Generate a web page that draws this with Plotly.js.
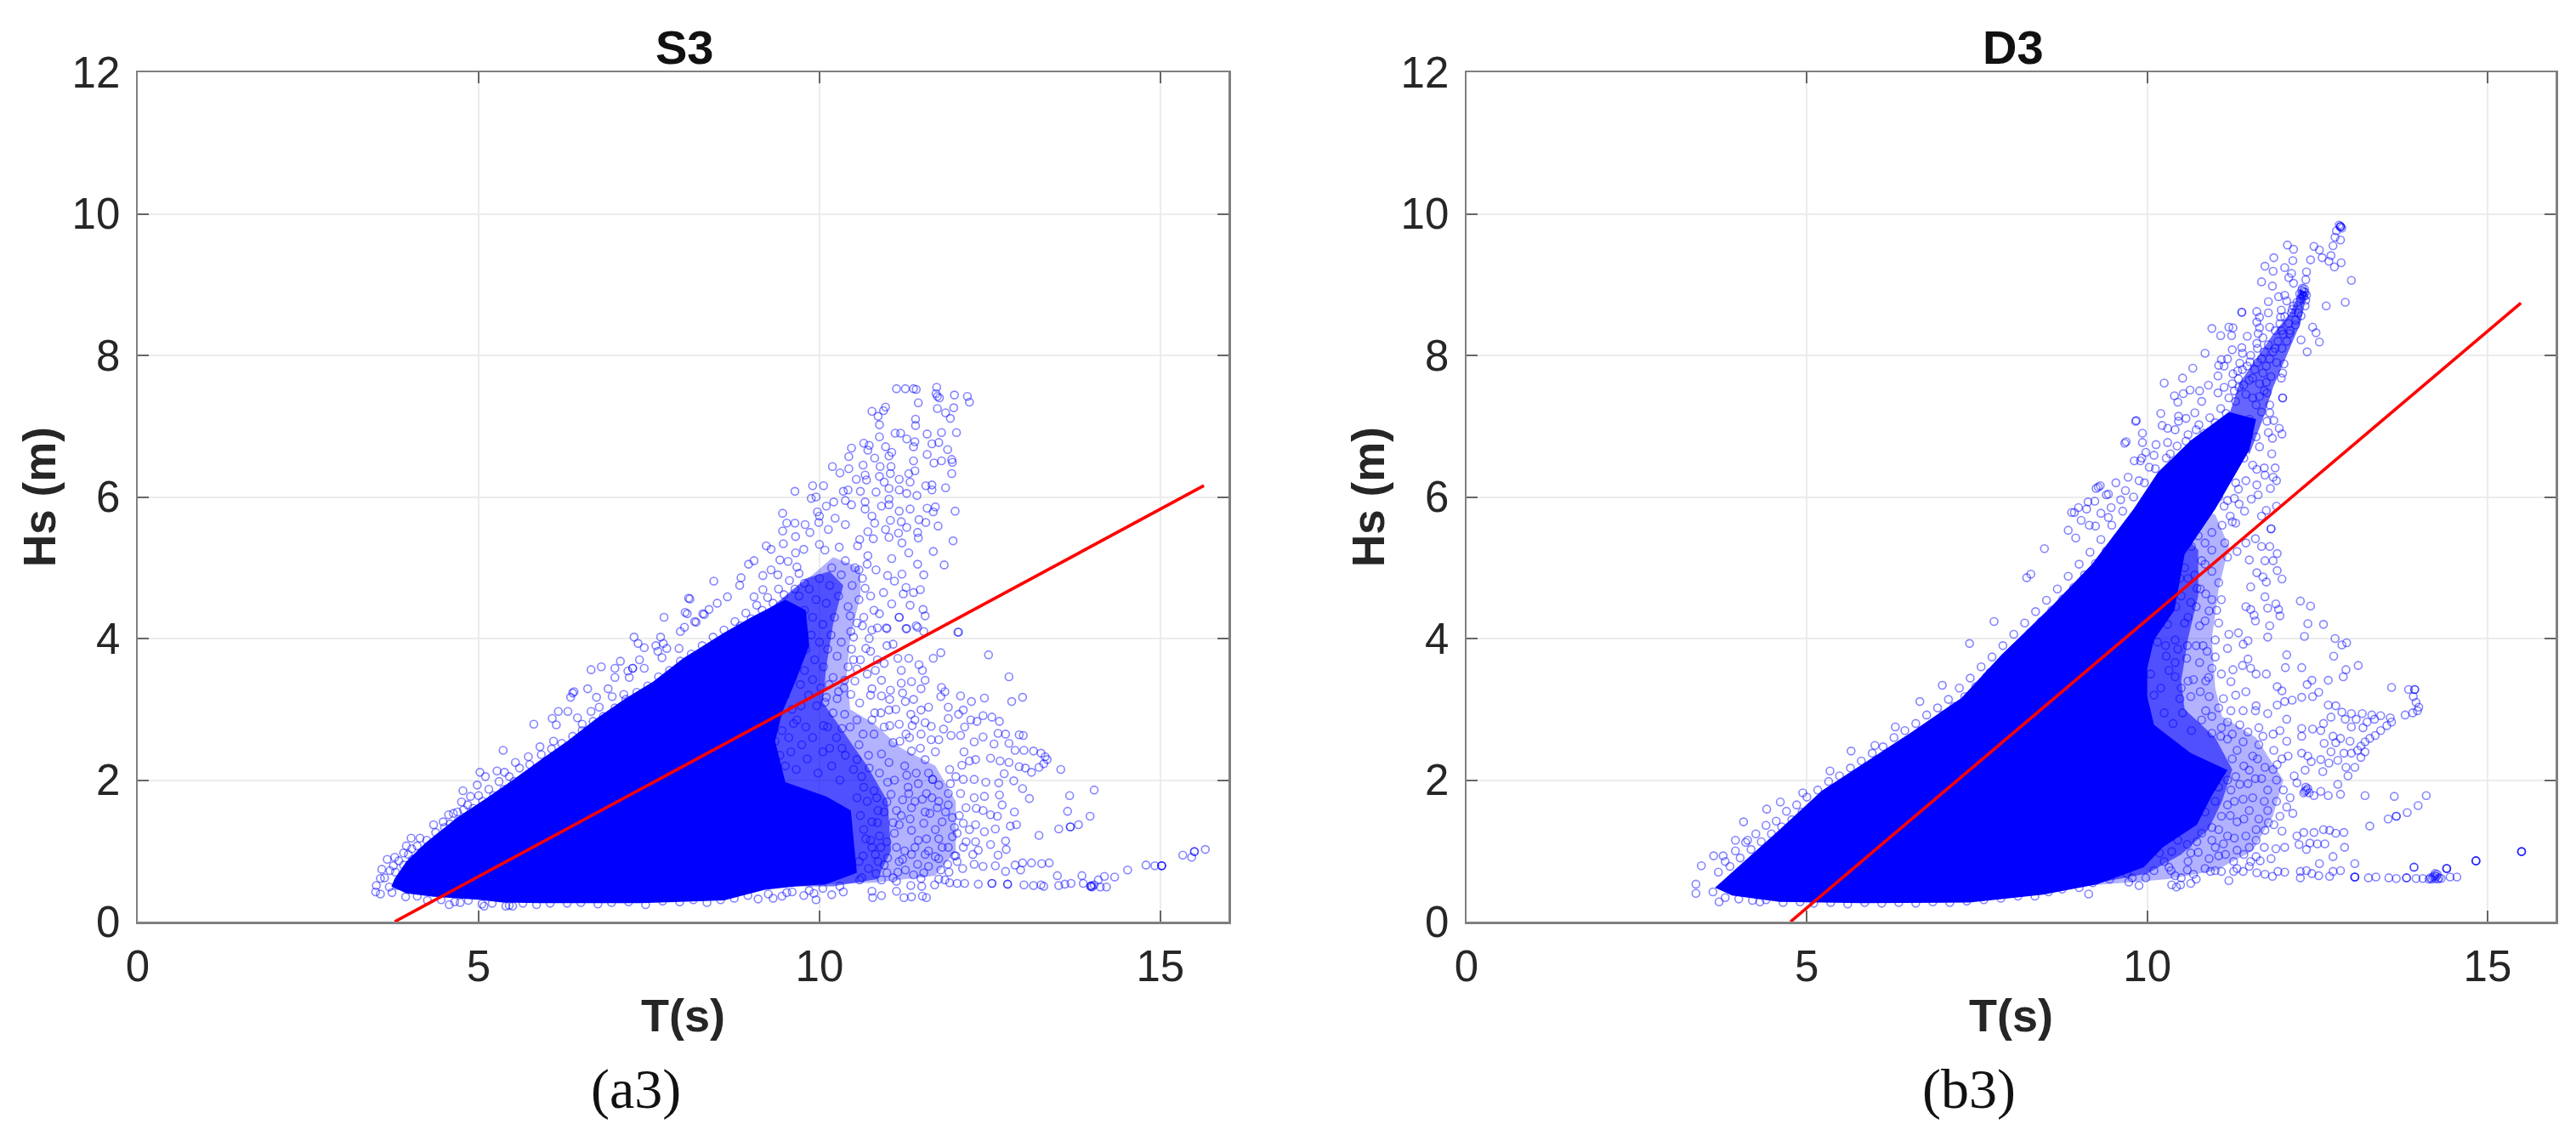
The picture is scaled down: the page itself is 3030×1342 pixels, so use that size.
<!DOCTYPE html>
<html><head><meta charset="utf-8">
<script src="https://cdn.plot.ly/plotly-3.0.1.min.js"></script>
<style>html,body{margin:0;padding:0;background:#fff}</style></head>
<body><div id="chart" style="width:3030px;height:1342px"></div>
<script>
const xTicks=[0,5,10,15];
const yTicks=[0,2,4,6,8,10,12];
const titles=["S3","D3"];
const captions=["(a3)","(b3)"];
const xLabel="T(s)";
const yLabel="Hs (m)";
const fitA=[[3.77,0],[15.64,6.16]];
const fitB=[[4.76,0],[15.49,8.74]];
const coreA=[[3.77,.61],[3.94,.85],[4.23,1.12],[4.7,1.48],[5.08,1.72],[5.5,2.0],[5.9,2.28],[6.3,2.55],[6.73,2.87],[7.15,3.15],[7.56,3.39],[8,3.72],[8.4,3.96],[8.6,4.08],[9.0,4.3],[9.5,4.55],[9.8,4.4],[9.85,3.9],[9.65,3.4],[9.45,2.95],[9.35,2.55],[9.5,1.97],[10.1,1.77],[10.46,1.57],[10.5,1.17],[10.55,.69],[10.1,.53],[9.66,.5],[9.2,.45],[8.6,.3],[7.35,.26],[5.9,.26],[5.35,.27],[5,.31],[4.35,.35],[3.94,.4],[3.72,.5]];
const mistA=[[9.0,4.2],[9.5,4.6],[9.8,4.85],[10.15,4.95],[10.35,4.75],[10.2,4.2],[10.1,3.6],[10.05,3.1],[10.3,2.75],[10.7,2.2],[11.0,1.7],[11.05,1.0],[10.85,.6],[10.2,.5],[9,.5]];
const hazeA=[[9.0,4.2],[9.9,4.9],[10.2,5.15],[10.6,5.0],[10.6,4.6],[10.45,4.0],[10.4,3.5],[10.45,3.0],[10.8,2.8],[11.2,2.45],[11.7,2.2],[12,1.7],[12,1.0],[11.7,.65],[10.8,.55],[9,.5]];
const coreB=[[3.65,.48],[4.01,.79],[4.61,1.31],[5.22,1.85],[5.82,2.23],[6.54,2.68],[7.27,3.16],[7.87,3.78],[8.59,4.45],[9.19,5.05],[9.8,5.83],[10.16,6.35],[10.64,6.8],[11.2,7.2],[11.6,7.1],[11.5,6.66],[11.0,5.83],[10.55,5.19],[10.4,4.4],[10.1,3.98],[10,3.58],[10,3.18],[10.1,2.78],[10.64,2.38],[11.18,2.14],[10.95,1.78],[10.73,1.37],[10.23,1.05],[9.95,.77],[9.27,.53],[8.47,.38],[7.39,.27],[5.82,.26],[4.6,.28],[3.9,.37]];
const mistB=[[9,4.5],[10,5.5],[10.4,5.6],[10.75,5.25],[10.75,4.6],[10.6,4.0],[10.5,3.4],[10.55,3.0],[11,2.6],[11.25,2.15],[11.1,1.7],[10.9,1.3],[10.5,.95],[10,.68],[9,.5]];
const hazeB=[[9,4.5],[10.6,5.9],[11.0,5.75],[11.2,5.3],[11.05,4.7],[10.95,4.0],[11.0,3.3],[11.1,2.9],[11.6,2.6],[12,2.0],[11.85,1.5],[11.55,1.0],[11.0,.72],[10.3,.6],[9,.5]];
const strandHazeB=[[11.2,7.15],[11.35,7.6],[11.6,7.95],[11.85,8.3],[12.1,8.6],[12.25,8.92],[12.35,8.88],[12.25,8.45],[12.05,8.0],[11.85,7.55],[11.7,7.1],[11.5,6.6]];
const upperA=[[11.13,7.53],[11.26,7.53],[11.38,7.53],[11.42,7.52],[11.72,7.55],[11.71,7.46],[11.73,7.42],[11.76,7.40],[11.98,7.44],[12.17,7.42],[12.2,7.34],[11.45,7.33],[11.73,7.25],[11.97,7.26],[11.85,7.19],[11.92,7.11],[10.77,7.21],[10.94,7.22],[10.97,7.27],[10.86,7.14],[10.88,7.02],[11.41,7.10],[11.41,7.01],[11.11,6.90],[11.19,6.90],[11.58,6.89],[11.79,6.91],[12.01,6.91],[10.88,6.85],[11.28,6.82],[11.40,6.78],[10.65,6.76],[10.73,6.73],[11.38,6.71],[11.65,6.75],[11.75,6.77],[10.97,6.71],[10.47,6.69],[10.71,6.66],[11.88,6.67],[11.06,6.63],[11.02,6.58],[10.43,6.57],[11.58,6.60],[10.81,6.55],[11.94,6.53],[11.38,6.51],[11.68,6.48],[11.79,6.51],[11.95,6.49],[10.19,6.43],[10.89,6.43],[11.05,6.43],[10.64,6.45],[10.43,6.40],[11.40,6.37],[10.30,6.34],[11.04,6.33],[11.31,6.33],[11.94,6.33],[10.67,6.31],[10.54,6.25],[10.69,6.24],[10.88,6.29],[11.17,6.25],[11.33,6.21],[10.95,6.21],[11.56,6.16],[11.65,6.17],[11.65,6.10],[11.85,6.13],[10.06,6.16],[9.90,6.16],[9.64,6.08],[10.35,6.08],[10.42,6.10],[10.60,6.08],[10.83,6.07],[11.02,6.12],[11.17,6.10],[11.28,6.05],[11.43,6.02],[9.88,5.98],[9.95,6.0],[10.38,5.95],[10.67,5.93],[11.02,5.97],[10.21,5.93],[10.10,5.87],[10.47,5.89],[10.91,5.87],[11.02,5.89],[10.67,5.83],[11.33,5.83],[11.58,5.84],[11.70,5.86],[11.67,5.79],[11.99,5.80],[11.17,5.80],[9.97,5.79],[9.46,5.77],[10,5.73],[10.23,5.70],[10.77,5.73],[11.04,5.67],[11.2,5.65],[11.46,5.68],[11.56,5.64],[11.74,5.59],[9.52,5.63],[9.64,5.63],[9.79,5.61],[9.99,5.64],[10.38,5.61],[10.81,5.63],[11.28,5.57],[9.46,5.52],[9.86,5.50],[10.13,5.54],[10.97,5.54],[11.16,5.49],[11.44,5.50],[11.45,5.42],[9.65,5.44],[10.71,5.51],[11.02,5.43],[11.96,5.38],[10.59,5.40],[10.79,5.41],[9.22,5.31],[9.29,5.26],[9.47,5.34],[10,5.33],[10.56,5.31],[11.21,5.35],[11.67,5.23],[11.31,5.21],[9.65,5.21],[9.77,5.26],[10.08,5.25],[10.29,5.29],[11.83,5.04],[11.06,5.13],[10.71,5.17],[9.04,5.10],[8.96,5.05],[9.54,5.09],[9.42,5.11],[9.67,5.01],[9.29,4.97],[9.17,4.89],[9.39,4.90],[11.44,5.05],[11.53,4.90],[10.83,4.97],[10.58,4.97],[8.85,4.86],[8.45,4.81],[11.21,4.91],[11.0,4.89],[10.67,4.71],[11.48,4.69],[11.27,4.72],[11.23,4.63],[11.38,4.65],[11.33,4.47],[11.10,4.81],[10.94,4.65],[11.06,4.49],[11.17,4.30],[11.52,4.41],[11.55,4.32],[10.88,4.35],[8.08,4.57],[8.03,4.37],[8.17,4.24],[8.38,4.41],[8.5,4.50],[8.29,4.35],[8.65,4.59],[8.83,4.75],[9.04,4.59],[9.17,4.69],[11.44,4.16],[12.04,4.09],[10.63,4.18],[11.27,4.14],[10.98,4.15],[10.77,4.12]];
const lowerA=[[12.03,4.09],[12.48,3.77],[12.78,3.46],[12.98,3.17],[12.82,3.11],[12.42,3.16],[12.07,3.19],[12.23,3.11],[11.78,3.80],[11.67,3.72],[11.46,3.63],[11.51,3.55],[11.55,3.41],[11.35,3.39],[11.20,3.37],[11.49,3.29],[11.79,3.31],[11.84,3.25],[11.78,3.18],[11.38,3.14],[11.04,3.27],[11.22,3.23],[10.91,3.41],[10.77,3.29],[10.91,3.19],[11.03,3.14],[11.26,3.11],[11.6,3.03],[11.89,3.03],[12.11,2.99],[11.49,2.99],[11.34,2.93],[12.04,2.93],[11.89,2.87],[12.4,2.91],[12.53,2.89],[12.64,2.83],[12.22,2.85],[12.31,2.83],[12.13,2.75],[11.55,2.81],[11.64,2.76],[11.36,2.77],[11.03,2.77],[11.17,2.79],[10.81,2.95],[11.02,2.99],[11.49,2.65],[11.27,2.65],[12.62,2.66],[12.73,2.65],[12.93,2.64],[12.99,2.63],[11.93,2.63],[12.07,2.63],[12.27,2.54],[12.40,2.61],[12.78,2.52],[12.56,2.51],[11.75,2.57],[11.64,2.57],[12.87,2.42],[13.0,2.42],[13.14,2.41],[13.25,2.38],[13.31,2.33],[13.34,2.29],[13.29,2.23],[13.22,2.18],[13.11,2.11],[13.02,2.17],[13.54,2.15],[12.93,2.19],[12.78,2.25],[12.65,2.27],[12.51,2.31],[12.29,2.29],[12.2,2.27],[12.09,2.21],[12.71,2.09],[12.85,1.99],[12.63,1.96],[12.44,1.97],[12.98,1.88],[13.08,1.74],[12.64,1.79],[12.68,1.65],[13.67,1.78],[14.03,1.86],[13.64,1.56],[13.97,1.49],[13.8,1.37],[13.68,1.34],[13.68,1.34],[13.51,1.31],[13.22,1.22],[12.86,1.55],[12.61,1.49],[12.89,1.37],[12.8,1.35],[12.58,1.31],[12.73,1.14],[12.74,1.02],[12.62,.94],[12.51,1.09],[12.27,1.75],[12.11,2.01],[12.27,2.01],[12.4,1.57],[12.51,1.51],[12.29,1.37],[12.42,1.27],[12.11,1.39],[11.95,1.47],[12.02,1.25],[12.29,1.13],[12.11,1.05],[12.0,.93],[12.27,.81],[12.4,.78],[12.58,.79],[12.87,.80],[12.98,.83],[13.11,.83],[13.26,.82],[13.37,.83],[12.95,.73],[12.73,.71],[13.49,.65],[13.85,.65],[14.18,.64],[14.33,.63],[14.52,.73],[14.79,.80],[14.92,.79],[15.02,.79],[15.02,.79],[15.02,.79],[15.33,.94],[15.46,.91],[15.5,.99],[15.5,.99],[15.66,1.02],[12.53,.54],[12.53,.54],[12.76,.53],[12.76,.53],[13.0,.52],[13.14,.51],[13.25,.52],[13.29,.50],[13.51,.51],[13.6,.53],[13.69,.54],[13.87,.54],[13.98,.50],[13.98,.50],[13.99,.51],[14.0,.49],[14.03,.52],[14.09,.59],[14.12,.49],[14.21,.49],[12.33,.53],[12.13,.54],[12.02,.54],[11.91,.55],[11.69,.52],[11.57,.34],[11.51,.36],[11.35,.35],[11.24,.34],[11.13,.43],[10.91,.37],[10.78,.34],[10.77,.43],[10.35,.42],[10.18,.38],[9.95,.31],[9.77,.37],[9.32,.33],[9.52,.41],[9.92,.40],[11.34,.51]];
const fieldA=[[11.66,2.01],[11.66,2.01],[11.0,1.97],[11.28,2.07],[11.91,2.15],[11.55,2.29],[11.35,2.41],[10.64,2.65],[10.77,2.85],[10.55,2.85],[10.37,2.93],[11.08,2.53],[10.91,2.37],[10.73,2.17],[10.55,2.29],[10.33,2.45],[10.15,2.45],[10.06,2.77],[10.33,2.73],[10.59,3.09],[10.46,3.21],[10.28,3.25],[10.1,3.17],[10.37,3.41],[10.55,3.57],[10.5,3.7],[10.68,3.86],[10.5,4.02],[10.73,4.0],[10.99,4.14],[11.17,4.3],[11.28,4.14],[11.42,4.18],[11.53,4.1],[10.99,3.9],[11.15,3.72],[11.31,3.72],[10.75,3.82],[10.46,4.1],[10.55,4.22],[10.86,1.57],[10.99,1.69],[11.13,1.57],[11.33,1.45],[11.53,1.39],[11.73,1.61],[11.51,1.73],[11.31,1.81],[11.89,1.81],[11.75,1.93],[11.57,1.81],[11.35,1.61],[11.17,1.37],[10.88,1.21],[10.99,1.13],[10.77,1.41],[11.8,1.41],[11.75,1.17],[11.55,.95],[11.75,.89],[11.98,.93],[11.78,.73],[11.57,1.17],[11.4,1.05],[11.13,1.05],[10.82,.95],[10.86,.85],[11.17,.85],[11.44,.81],[11.53,.69],[11.26,.73],[10.99,.69],[10.91,.59],[11.88,.81],[12.02,.85],[11.84,.59],[11.49,.61],[11.13,.57],[10.59,.59],[10.64,.93],[10.68,1.17],[10.77,1.05],[11.35,1.29],[11.98,1.33],[11.89,1.05],[12.15,1.13],[12.33,1.01],[12.15,1.61],[12.42,1.77],[11.89,1.65],[12.07,1.81],[11.62,1.53]];
const edgeA=[[8.10,4.56],[7.72,4.30],[8.06,4.35],[8.31,4.34],[8.19,4.23],[7.28,4.02],[7.34,3.93],[7.43,3.87],[7.67,4.02],[7.6,3.90],[7.71,3.93],[7.76,3.86],[7.63,3.82],[7.69,3.73],[7.96,4.10],[8.02,4.16],[7.94,3.86],[6.65,3.56],[6.8,3.60],[7.08,3.68],[7.0,3.58],[7.0,3.45],[7.26,3.58],[7.26,3.58],[7.19,3.54],[7.21,3.45],[7.36,3.70],[7.43,3.58],[6.6,3.29],[6.9,3.29],[6.73,3.17],[6.96,3.18],[7.13,3.21],[6.38,3.23],[6.35,3.17],[6.4,3.25],[6.17,2.97],[6.31,2.97],[6.08,2.87],[6.14,2.78],[5.81,2.79],[6.45,2.88],[6.65,2.97],[6.77,3.03],[6.52,2.79],[5.36,2.42],[6.1,2.55],[5.9,2.47],[5.73,2.33],[5.54,2.25],[5.02,2.11],[5.1,2.05],[4.98,1.93],[5.27,2.13],[5.38,2.11],[4.77,1.85],[4.88,1.77],[4.75,1.69],[4.56,1.51],[4.69,1.55],[4.34,1.37],[4.48,1.41],[4.01,1.18],[4.14,1.18],[3.94,1.07],[3.9,.97],[4.02,1.03],[3.66,.88],[3.77,.91],[3.58,.74],[3.75,.79],[3.56,.61],[3.5,.51],[3.49,.42],[3.56,.39],[3.69,.49],[3.81,.51],[3.73,.41],[3.93,.35],[4.57,.24],[4.73,.27],[5.08,.22],[5.4,.22],[5.5,.22]];
const rimA=[[3.62,.62],[3.7,.72],[3.78,.7],[3.83,.86],[3.9,.8],[3.97,.95],[4.03,.88],[4.1,1.07],[4.16,.98],[4.24,1.15],[4.3,1.06],[4.37,1.26],[4.44,1.17],[4.5,1.33],[4.58,1.38],[4.63,1.53],[4.7,1.42],[4.78,1.58],[4.84,1.65],[4.92,1.6],[5,1.78],[5.06,1.7],[5.15,1.87],[5.22,1.78],[5.3,1.98],[5.37,1.87],[5.45,2.05],[5.52,1.98],[5.6,2.17],[5.68,2.05],[5.75,2.22],[5.83,2.13],[5.92,2.36],[6,2.27],[6.07,2.44],[6.15,2.33],[6.22,2.52],[6.3,2.43],[6.38,2.62],[6.45,2.52],[6.52,2.7],[6.6,2.62],[6.68,2.83],[6.75,2.73],[6.83,2.9],[6.92,2.82],[7,3.02],[7.08,2.93],[7.16,3.14],[7.24,3.03],[7.32,3.24],[7.4,3.13],[7.48,3.33],[7.56,3.25],[7.64,3.46],[7.72,3.36],[7.8,3.55],[7.88,3.47],[7.96,3.68],[8.04,3.58],[8.12,3.78],[8.2,3.7],[8.28,3.9],[8.36,3.82],[8.44,4.02],[8.52,3.95],[8.6,4.12],[8.68,4.05],[8.76,4.24],[8.84,4.18],[8.92,4.36],[9,4.28],[9.08,4.47],[9.16,4.4],[9.24,4.58],[9.32,4.5],[9.4,4.7],[9.48,4.62],[9.56,4.82],[9.64,4.7],[9.7,4.92],[9.78,4.78],[4.1,.36],[4.25,.3],[4.45,.31],[4.65,.28],[4.85,.3],[5.05,.25],[5.2,.26],[5.45,.23],[5.65,.26],[5.85,.24],[6.05,.26],[6.3,.26],[6.5,.27],[6.75,.25],[6.95,.27],[7.2,.28],[7.45,.24],[7.7,.29],[7.95,.28],[8.15,.31],[8.35,.27],[8.55,.31],[8.75,.33],[8.95,.37],[9.1,.32],[9.25,.39],[9.45,.36],[9.6,.42],[9.85,.44],[10.05,.47],[10.3,.5]];
const denseA=[[9.7,4.6],[9.78,4.4],[9.85,4.7],[9.9,4.3],[9.95,4.55],[10,4.85],[10.05,4.2],[10.1,4.5],[10.15,4.75],[10.18,5.0],[10.22,4.3],[10.28,4.6],[10.32,4.9],[10.38,5.1],[10.42,4.45],[10.48,4.75],[10.52,5.0],[10.58,4.55],[10.63,4.85],[10.7,5.05],[10.75,4.6],[9.72,4.1],[9.8,3.85],[9.88,4.05],[9.93,3.7],[10.0,3.95],[10.06,3.6],[10.12,3.85],[10.17,4.05],[10.2,3.45],[10.26,3.75],[10.32,3.95],[10.36,3.3],[10.42,3.6],[10.47,3.85],[10.52,3.4],[10.6,3.7],[10.65,4.3],[10.7,3.5],[10.8,4.4],[10.85,3.7],[9.65,3.6],[9.72,3.35],[9.78,3.55],[9.84,3.2],[9.9,3.42],[9.96,3.05],[10.02,3.3],[10.08,3.1],[10.14,3.35],[10.2,2.95],[10.26,3.15],[9.5,3.2],[9.55,3.5],[9.6,3.0],[9.67,2.85],[9.73,3.05],[9.8,2.75],[9.4,2.95],[9.45,2.7],[9.55,2.6],[9.62,2.8],[9.35,2.55],[9.42,2.35],[9.5,2.2],[9.58,2.4],[9.66,2.15],[9.74,2.5],[9.82,2.3],[9.9,2.6],[9.98,2.1],[10.05,2.4],[10.12,2.75],[10.18,2.2],[10.25,2.6],[10.3,2.0],[10.38,2.35],[10.45,2.75],[10.5,2.15],[10.58,2.5],[10.65,1.9],[10.72,2.35],[10.8,2.65],[10.88,2.1],[10.95,2.75],[11.02,2.25],[11.1,2.0],[11.18,2.55],[11.25,2.2],[11.32,2.6],[11.42,2.1],[11.48,2.45],[10.55,1.75],[10.6,1.5],[10.65,1.3],[10.7,1.7],[10.75,1.15],[10.8,1.85],[10.85,1.4],[10.9,1.05],[10.95,1.55],[11,.9],[11.05,1.8],[11.1,1.25],[11.15,.7],[11.2,1.5],[11.25,1.0],[11.3,1.9],[11.35,.95],[11.4,1.7],[11.45,1.15],[11.5,.5],[11.55,1.55],[11.6,1.0],[11.65,1.75],[11.7,1.3],[11.75,.6],[11.8,1.05],[11.85,1.55],[11.9,.7],[11.95,1.2],[12.05,1.5],[12.1,.75],[12.2,1.3],[12.25,.95],[12.3,1.6],[10.58,.85],[10.62,.62],[10.72,.75],[10.83,.68],[10.95,.8],[11.08,.62],[11.22,.88],[11.38,.66],[11.6,.78],[11.7,.92],[10.62,2.05],[10.84,1.75],[11.08,1.4],[11.22,1.72],[11.45,1.95],[11.6,2.1],[11.75,1.7],[11.92,1.95],[12.0,2.05],[12.12,2.4],[11.7,2.4],[11.82,2.72],[11.4,2.85],[11.12,3.0],[10.9,2.95],[10.75,3.2],[10.95,3.65],[11.2,3.55],[11.08,3.92],[10.82,3.55],[10.45,4.32],[10.85,4.15]];
const upperB=[[12.84,9.82],[12.84,9.82],[12.84,9.82],[12.82,9.84],[12.86,9.8],[12.78,9.76],[12.76,9.67],[12.84,9.63],[12.73,9.55],[12.06,9.56],[12.15,9.50],[12.45,9.54],[12.53,9.49],[11.86,9.38],[12.14,9.34],[12.40,9.35],[12.57,9.38],[12.70,9.41],[12.67,9.33],[12.85,9.31],[12.75,9.25],[11.73,9.26],[12.02,9.24],[11.85,9.19],[12.12,9.16],[12.34,9.18],[12.08,9.10],[13.0,9.06],[11.68,9.04],[12.15,9.02],[12.33,9.07],[11.84,8.98],[12.28,8.95],[12.32,8.89],[12.24,8.87],[12.34,8.85],[12.3,8.83],[12.3,8.9],[12.27,8.86],[12.31,8.94],[11.93,8.83],[12.02,8.85],[12.91,8.75],[12.63,8.70],[11.78,8.76],[12.05,8.77],[12.32,8.70],[11.39,8.61],[11.39,8.61],[11.61,8.62],[11.78,8.60],[11.97,8.64],[12.13,8.65],[11.65,8.54],[11.96,8.54],[12.26,8.56],[11.61,8.47],[12.18,8.43],[10.95,8.38],[11.2,8.40],[11.26,8.39],[11.65,8.39],[12.43,8.40],[12.48,8.32],[11.08,8.28],[11.24,8.28],[11.47,8.27],[11.63,8.31],[12.26,8.22],[12.53,8.19],[11.97,8.35],[12.09,8.31],[11.61,8.17],[10.85,8.03],[11.25,8.08],[11.39,8.11],[12.35,8.05],[11.4,8.03],[11.18,7.95],[11.09,7.94],[11.05,7.86],[11.13,7.85],[10.67,7.82],[11.36,7.89],[11.51,7.91],[12.01,7.88],[11.26,7.74],[11.04,7.71],[10.52,7.68],[10.25,7.61],[11.34,7.67],[10.9,7.58],[11.99,7.75],[11.97,7.68],[11.99,7.40],[11.99,7.40],[10.63,7.51],[10.77,7.50],[10.53,7.46],[10.40,7.43],[10.45,7.34],[11.13,7.55],[11.04,7.47],[10.8,7.35],[11.8,7.30],[11.76,7.47],[10.2,7.18],[10.46,7.14],[10.57,7.11],[10.7,7.19],[9.84,7.08],[10.22,7.01],[10.3,6.97],[10.41,6.95],[10.46,7.07],[10.72,6.95],[11.8,7.19],[11.86,7.08],[11.76,7.07],[11.94,6.97],[11.98,6.89],[11.78,6.91],[9.93,6.90],[9.69,6.78],[9.93,6.77],[10.13,6.74],[10.57,6.79],[10.3,6.77],[11.84,6.83],[11.65,6.71],[11.83,6.61],[9.98,6.63],[10.10,6.59],[10.34,6.61],[9.90,6.51],[9.81,6.51],[10.03,6.42],[11.88,6.41],[11.72,6.41],[11.61,6.39],[9.72,6.28],[11.73,6.31],[11.9,6.23],[11.85,6.28],[9.54,6.20],[9.31,6.16],[9.25,6.12],[9.4,6.03],[9.68,6.09],[9.88,6.23],[11.61,6.17],[11.81,6.12],[11.45,6.23],[11.34,6.11],[11.63,6.03],[11.28,5.98],[9.23,5.94],[9.61,5.96],[8.99,5.85],[9.11,5.83],[9.47,5.85],[8.93,5.78],[9.32,5.77],[9.03,5.67],[9.43,5.71],[11.9,5.87],[11.75,5.81],[11.68,5.73],[11.53,5.97],[11.43,5.80],[11.13,5.87],[11.22,5.73],[11.82,5.55],[8.84,5.53],[9.24,5.59],[9.15,5.60],[11.3,5.63]];
const lowerB=[[11.82,5.55],[11.91,5.20],[11.80,5.30],[11.85,5.10],[11.73,5.10],[11.59,5.41],[11.68,5.30],[11.91,4.96],[11.98,4.84],[11.75,4.80],[11.61,4.93],[11.70,4.87],[11.52,4.73],[11.73,4.59],[12.25,4.53],[12.40,4.46],[11.89,4.49],[11.77,4.43],[11.93,4.41],[11.95,4.32],[11.45,4.45],[11.52,4.41],[11.57,4.33],[11.59,4.25],[12.36,4.21],[12.59,4.20],[11.8,4.18],[11.77,4.02],[12.31,4.03],[12.76,4.00],[12.93,3.94],[12.86,3.91],[11.34,4.08],[11.2,4.06],[11.48,3.97],[11.41,3.92],[12.05,3.77],[12.74,3.75],[12.03,3.59],[12.27,3.59],[13.1,3.62],[12.92,3.56],[12.88,3.46],[12.66,3.41],[11.75,3.50],[11.48,3.71],[11.4,3.62],[11.52,3.58],[11.6,3.50],[11.26,3.56],[11.23,3.39],[12.42,3.41],[12.35,3.35],[13.59,3.31],[13.84,3.28],[13.93,3.28],[13.93,3.28],[11.91,3.32],[11.98,3.26],[12.52,3.24],[12.43,3.18],[12.27,3.17],[12.13,3.13],[12.02,3.11],[11.91,3.06],[13.91,3.18],[13.95,3.10],[13.99,3.03],[13.97,2.98],[13.9,2.95],[13.79,2.92],[12.66,3.06],[12.77,3.05],[12.86,2.96],[13.0,2.94],[13.16,2.94],[13.3,2.92],[13.43,2.91],[13.57,2.88],[13.59,2.82],[13.52,2.77],[13.43,2.70],[13.35,2.63],[13.27,2.59],[13.2,2.54],[13.14,2.48],[13.23,2.82],[13.34,2.86],[13.07,2.86],[12.91,2.86],[12.7,2.89],[12.59,2.80],[13.0,2.75],[13.17,2.74],[12.43,2.72],[12.55,2.70],[12.27,2.73],[12.05,2.86],[12.98,2.55],[12.84,2.59],[12.73,2.62],[12.6,2.52],[12.77,2.53],[12.27,2.62],[13.09,2.42],[13.2,2.40],[12.89,2.38],[12.7,2.40],[13.0,2.38],[13.14,2.32],[12.8,2.28],[12.67,2.24],[12.55,2.29],[13.05,2.18],[12.92,2.18],[12.95,2.06],[12.58,2.12],[12.27,2.38],[12.07,2.34],[11.91,2.22],[12.36,2.34],[12.41,2.26],[12.32,2.14],[12.16,2.06],[12.2,1.96],[12.8,1.94],[12.55,1.84],[12.66,1.78],[12.84,1.80],[13.2,1.78],[13.63,1.77],[14.1,1.78],[13.98,1.64],[13.82,1.54],[13.66,1.49],[13.66,1.49],[13.54,1.45],[13.27,1.35],[12.34,1.86],[12.32,1.84],[12.36,1.88],[12.33,1.9],[12.3,1.82],[12.38,1.82],[12.45,1.78],[12.89,1.26],[12.77,1.25],[12.68,1.29],[12.59,1.30],[12.45,1.26],[12.3,1.26],[12.61,1.10],[12.5,1.10],[12.39,1.11],[12.34,1.02],[12.9,1.05],[12.73,.92],[12.53,.82],[13.05,.82],[12.2,1.21],[12.23,1.09],[12.02,1.05],[11.89,1.03],[11.82,.89],[11.66,.86],[11.52,.85],[13.05,.63],[13.05,.63],[13.05,.63],[15.5,.99],[15.5,.99],[15.5,.99],[14.83,.86],[14.83,.86],[14.83,.86],[14.4,.75],[14.4,.75],[14.4,.75],[13.92,.77],[13.92,.77],[13.25,.62],[13.36,.63],[13.55,.62],[13.66,.61],[13.81,.62],[13.81,.62],[13.95,.61],[14.05,.61],[14.14,.60],[14.18,.60],[14.23,.61],[14.27,.60],[14.32,.61],[14.23,.68],[14.16,.62],[14.2,.63],[14.25,.64],[14.29,.62],[14.22,.65],[14.26,.67],[14.45,.63],[14.55,.63],[12.84,.72],[12.73,.71],[12.68,.64],[12.25,.71],[12.25,.62],[12.34,.72],[12.42,.68],[12.52,.65],[12.02,.70],[11.92,.71],[11.84,.64],[11.73,.67],[11.61,.69],[11.2,.58],[11.41,.71],[11.27,.71],[11.09,.71],[10.93,.71],[10.64,.54],[10.49,.52],[10.36,.52],[10.43,.49],[9.88,.51],[9.73,.56],[9.14,.39]];
const fieldB=[[11,3.74],[11.18,3.86],[10.95,3.58],[10.77,3.66],[11.09,3.5],[10.86,3.4],[10.68,3.42],[10.5,3.3],[10.41,3.46],[10.64,3.18],[10.91,3.18],[11.05,3.02],[10.86,2.98],[11.23,2.98],[11.41,2.98],[11.59,2.98],[11.77,2.94],[11.18,2.82],[11.36,2.78],[11.64,2.74],[11.95,2.7],[11.09,2.74],[10.95,2.66],[11.18,2.58],[11.41,2.54],[11.64,2.5],[11.86,2.42],[11.32,2.42],[11.55,2.34],[11.73,2.18],[11.5,2.14],[11.36,1.94],[11.59,2.02],[11.77,1.86],[12,1.86],[11.23,1.86],[11.41,1.73],[11.18,1.65],[11.5,1.57],[11.77,1.57],[11.95,1.49],[12.14,1.53],[11.86,1.37],[11.64,1.45],[11.32,1.41],[11.09,1.49],[10.95,1.33],[11.18,1.21],[11.45,1.21],[11.73,1.29],[11,1.05],[11.32,1.01],[11.5,1.05],[10.73,1.13],[10.64,.97],[10.91,.89],[11.05,.93],[11.27,.85],[10.59,.73],[10.32,.77],[10.41,.65],[10.68,.67],[10.18,.97],[10.36,.99],[10.59,1.09],[11.18,5.15],[10.95,4.95],[11.05,4.79],[10.86,4.63],[11.09,4.55],[10.91,4.39],[10.77,4.18],[11.05,4.22],[10.73,4.71],[10.64,4.51],[11.32,5.23],[11.45,5.35],[11.5,5.11],[11.14,5.35],[10.55,4.22],[10.41,3.98],[10.59,3.9],[10.82,3.9],[11,3.98],[10.41,3.66],[10.27,3.9]];
const edgeB=[[3.37,.53],[3.37,.40],[3.45,.79],[3.71,.28],[3.63,.93],[3.77,.93],[4.41,1.59],[4.61,1.69],[4.31,.28],[3.95,1.15],[4.07,1.41],[4.13,1.15],[4.94,1.82],[5.34,2.13],[5.65,2.41],[6,2.49],[6.3,2.75],[6.66,3.11],[6.99,3.34],[7.39,3.93],[7.69,3.52],[7.75,4.24],[8.29,4.91],[8.49,5.27],[8.23,4.86],[8.89,5.78],[8.95,5.42],[9.28,6.14],[9.67,6.76],[9.83,7.07],[9.92,6.55],[9.13,5.93],[9.43,6.04]];
const rimB=[[3.7,.7],[3.8,.85],[3.87,.78],[3.95,1.0],[4.02,.9],[4.1,1.12],[4.18,1.02],[4.25,1.24],[4.33,1.13],[4.4,1.36],[4.48,1.24],[4.55,1.42],[4.63,1.34],[4.7,1.56],[4.78,1.44],[4.85,1.65],[4.93,1.55],[5,1.76],[5.08,1.64],[5.16,1.86],[5.24,1.78],[5.32,1.98],[5.4,1.88],[5.48,2.06],[5.56,1.96],[5.64,2.17],[5.72,2.06],[5.8,2.27],[5.88,2.17],[5.96,2.38],[6.04,2.26],[6.12,2.47],[6.2,2.37],[6.28,2.6],[6.36,2.47],[6.44,2.7],[6.52,2.58],[6.6,2.8],[6.68,2.7],[6.76,2.92],[6.84,2.8],[6.92,3.02],[7,2.92],[7.08,3.14],[7.16,3.04],[7.24,3.3],[7.32,3.18],[7.4,3.44],[7.48,3.32],[7.56,3.6],[7.64,3.46],[7.72,3.74],[7.8,3.6],[7.88,3.9],[7.96,3.76],[8.04,4.06],[8.12,3.92],[8.2,4.22],[8.28,4.08],[8.36,4.38],[8.44,4.24],[8.52,4.54],[8.6,4.4],[8.68,4.7],[8.76,4.56],[8.84,4.88],[8.92,4.72],[9,5.05],[9.08,4.9],[9.16,5.22],[9.24,5.06],[9.32,5.4],[9.4,5.24],[9.48,5.6],[9.56,5.42],[9.64,5.8],[9.72,5.6],[9.8,6.0],[9.88,5.8],[9.96,6.2],[10.04,6.02],[10.12,6.4],[10.2,6.22],[10.28,6.55],[10.36,6.42],[10.44,6.72],[10.52,6.6],[10.6,6.88],[10.68,6.75],[10.76,7.02],[10.84,6.9],[10.92,7.12],[11,7.05],[11.08,7.25],[11.16,7.18],[3.62,.42],[3.8,.34],[4.0,.32],[4.2,.3],[4.4,.31],[4.65,.27],[4.9,.28],[5.1,.26],[5.35,.27],[5.6,.25],[5.85,.27],[6.1,.26],[6.35,.27],[6.6,.26],[6.85,.28],[7.1,.27],[7.35,.29],[7.6,.31],[7.85,.33],[8.1,.36],[8.35,.36],[8.55,.42],[8.75,.46],[9,.48],[9.2,.55],[9.45,.6],[9.7,.68]];
const strandB=[[11.2,7.4],[11.25,7.6],[11.3,7.35],[11.35,7.55],[11.4,7.8],[11.45,7.45],[11.5,7.65],[11.52,8.0],[11.55,7.4],[11.58,7.8],[11.62,8.1],[11.65,7.6],[11.68,7.95],[11.7,8.25],[11.72,7.5],[11.75,7.85],[11.78,8.15],[11.8,8.4],[11.82,7.7],[11.85,8.05],[11.88,8.35],[11.9,7.9],[11.92,8.2],[11.95,8.45],[11.98,8.1],[12,8.3],[12.02,8.55],[12.05,8.2],[12.08,8.45],[12.1,8.35],[12.12,8.6],[12.15,8.7],[12.18,8.5],[12.2,8.75],[12.22,8.6],[12.25,8.8],[12.27,8.92],[12.3,8.85],[12.33,8.78],[11.6,7.3],[11.68,7.2],[11.5,7.1],[11.4,7.0],[11.62,7.9],[11.72,8.05],[11.8,7.95],[11.88,8.1],[11.55,7.68],[11.47,7.85],[11.42,7.58],[11.33,7.78],[11.28,7.5],[11.65,7.42],[11.7,7.75],[11.75,7.62],[11.6,6.85],[11.55,6.45],[11.42,6.55],[11.3,6.2],[11.18,5.95],[11.05,6.0],[11.25,5.65],[11.35,5.9],[10.95,5.5],[11.1,5.6],[10.85,5.35],[10.65,5.3],[10.8,5.1],[10.6,4.85],[10.5,4.6]];
const denseB=[[10.1,5.5],[10.2,5.7],[10.3,5.4],[10.45,5.6],[10.6,5.35],[10.75,5.45],[10.25,5.05],[10.4,5.2],[10.55,5.0],[10.7,4.9],[10.85,5.05],[10.95,5.25],[10.35,4.7],[10.48,4.85],[10.78,4.7],[10.95,4.55],[11.02,4.4],[10.3,4.2],[10.42,4.45],[10.6,4.3],[10.72,4.45],[10.85,4.25],[10.15,3.95],[10.28,3.75],[10.45,3.85],[10.58,3.72],[10.72,3.9],[10.88,3.82],[10.05,3.5],[10.2,3.3],[10.32,3.55],[10.48,3.15],[10.6,3.4],[10.78,3.25],[10.9,3.45],[9.98,3.0],[10.1,3.2],[10.25,2.95],[10.38,2.8],[10.52,2.95],[10.65,2.7],[10.8,2.85],[10.95,2.9],[11.12,3.15],[11.3,3.2],[11.45,3.25],[11.6,3.05],[11.08,2.62],[11.25,2.65],[11.48,2.68],[11.7,2.62],[11.85,2.65],[11.25,2.3],[11.42,2.2],[11.62,2.3],[11.85,2.15],[11.98,2.3],[12.05,2.55],[11.3,2.05],[11.48,1.95],[11.68,2.02],[11.9,2.0],[12.1,1.75],[11.05,1.9],[11.18,2.0],[11.0,1.7],[11.28,1.7],[11.55,1.75],[11.72,1.7],[11.9,1.7],[12.05,1.62],[10.85,1.55],[11.05,1.3],[11.22,1.5],[11.42,1.45],[11.6,1.3],[11.78,1.4],[11.98,1.28],[10.8,1.25],[10.95,1.15],[11.12,1.1],[11.28,1.18],[11.42,.95],[11.6,1.15],[11.72,1.05],[10.45,1.15],[10.6,.85],[10.75,.98],[10.85,.75],[11,.72],[11.15,.95],[11.32,.75],[11.5,.78],[11.6,.92],[10.25,.85],[10.35,.72],[10.5,.62],[10.72,.6],[10.1,.72],[9.98,.62],[9.78,.62]];

const fontSans='"Liberation Sans", Arial, sans-serif';
const fontSerif='"Liberation Serif", "Times New Roman", serif';
const ink='#262626';
function xs(p){return p.map(d=>d[0]);}
function ys(p){return p.map(d=>d[1]);}
function area(p,color,ax,ay){return {type:'scatter',mode:'lines',x:xs(p),y:ys(p),xaxis:ax,yaxis:ay,fill:'toself',fillcolor:color,line:{width:0,color:color},hoverinfo:'skip',showlegend:false};}
function cloud(p,ax,ay){return {type:'scatter',mode:'markers',x:xs(p),y:ys(p),xaxis:ax,yaxis:ay,marker:{symbol:'circle-open',size:9,opacity:.48,color:'#0000ff',line:{width:1.6,color:'#0000ff'}},hoverinfo:'skip',showlegend:false};}
function fit(p,ax,ay){return {type:'scatter',mode:'lines',x:xs(p),y:ys(p),xaxis:ax,yaxis:ay,line:{color:'#ff0000',width:3.6},hoverinfo:'skip',showlegend:false};}
const ptsA=[].concat(upperA,lowerA,fieldA,edgeA,rimA,denseA);
const ptsB=[].concat(upperB,lowerB,fieldB,edgeB,rimB,strandB,denseB);
const data=[
 area(hazeA,'rgba(0,0,255,0.3)','x','y'),area(mistA,'rgba(0,0,255,0.55)','x','y'),area(coreA,'#0000ff','x','y'),cloud(ptsA,'x','y'),fit(fitA,'x','y'),
 area(hazeB,'rgba(0,0,255,0.3)','x2','y2'),area(mistB,'rgba(0,0,255,0.55)','x2','y2'),area(strandHazeB,'rgba(0,0,255,0.6)','x2','y2'),area(coreB,'#0000ff','x2','y2'),cloud(ptsB,'x2','y2'),fit(fitB,'x2','y2')
];
const W=3030,H=1342;
function axisCommon(){return {tickmode:'array',ticks:'inside',ticklen:13,tickwidth:2,tickcolor:'#666',mirror:'ticks',showline:true,linecolor:'#808080',linewidth:2.5,showgrid:true,gridcolor:'#ececec',gridwidth:2,zeroline:false,tickfont:{family:fontSans,size:51,color:ink}};}
function xaxis(l,r,anchor){return Object.assign(axisCommon(),{domain:[l/W,r/W],range:[0,16],anchor:anchor,tickvals:xTicks,ticktext:xTicks.map(String),ticklabelstandoff:6,title:{text:'<b>'+xLabel+'</b>',font:{family:fontSans,size:54,color:ink},standoff:12}});}
function yaxis(anchor){return Object.assign(axisCommon(),{domain:[1-1084/H,1-85/H],range:[0,12],anchor:anchor,tickvals:yTicks,ticktext:yTicks.map(String),ticklabelstandoff:8,title:{text:'<b>'+yLabel+'</b>',font:{family:fontSans,size:53,color:ink},standoff:2}});}
function note(text,x,y,font,size,color){return {text:text,xref:'paper',yref:'paper',x:x/W,y:1-y/H,xanchor:'center',yanchor:'middle',showarrow:false,font:{family:font,size:size,color:color}};}
const layout={width:W,height:H,margin:{l:0,r:0,t:0,b:0},paper_bgcolor:'#fff',plot_bgcolor:'#fff',showlegend:false,hovermode:false,
 xaxis:xaxis(162,1445,'y'),yaxis:yaxis('x'),xaxis2:xaxis(1725,3006,'y2'),yaxis2:yaxis('x2'),
 annotations:[
  note('<b>'+titles[0]+'</b>',806,55,fontSans,56,'#111'),note('<b>'+titles[1]+'</b>',2368,55,fontSans,56,'#111'),
  note(captions[0],748,1281,fontSerif,66,'#111'),note(captions[1],2316,1281,fontSerif,66,'#111')
 ]};
Plotly.newPlot('chart',data,layout,{displayModeBar:false,staticPlot:true});
</script></body></html>
